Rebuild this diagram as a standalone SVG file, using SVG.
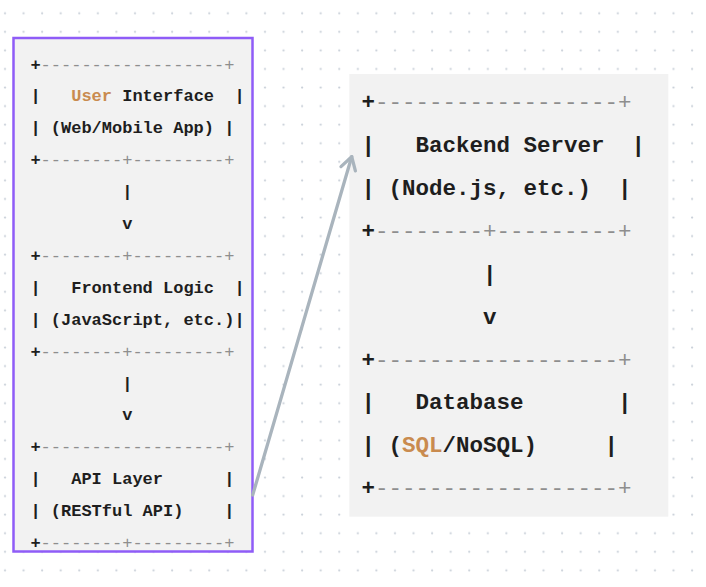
<svg xmlns="http://www.w3.org/2000/svg" width="706" height="587" viewBox="0 0 706 587">
  <defs>
    <pattern id="dots" patternUnits="userSpaceOnUse" x="0" y="0" width="18.57" height="18.57">
      <circle cx="5" cy="13.3" r="1.1" fill="#c8cfd8"/>
    </pattern>
    <marker id="chev" markerUnits="userSpaceOnUse" viewBox="-16 -10 20 20" markerWidth="20" markerHeight="20" refX="0" refY="0" orient="auto">
      <path d="M-12.5,-7.5 L0,0 L-12.5,7.5" fill="none" stroke="#a9b4bd" stroke-width="3.3" stroke-linecap="round" stroke-linejoin="round"/>
    </marker>
    <style>
      .l { font-family: "Liberation Mono", "DejaVu Sans Mono", monospace; font-size: 17px; font-weight: bold; fill: #1e1e1e; white-space: pre; }
      .r { font-family: "Liberation Mono", "DejaVu Sans Mono", monospace; font-size: 22.5px; font-weight: bold; fill: #1e1e1e; white-space: pre; }
      .g { fill: #8e8e8e; font-weight: normal; }
      .o { fill: #c98b4f; }
      .box { fill: #f2f2f2; }
    </style>
  </defs>
  <rect width="706" height="587" fill="#ffffff"/>
  <rect width="706" height="587" fill="url(#dots)"/>

  <g id="node-frontend">
    <rect class="box" x="13.5" y="38" width="239" height="513.5" stroke="#8f5cf7" stroke-width="2.5"/>
    <text class="l" xml:space="preserve" x="30.4" y="69.5">+<tspan class="g">------------------+</tspan></text>
    <text class="l" xml:space="preserve" x="30.4" y="101.4">|   <tspan class="o">User</tspan> Interface  |</text>
    <text class="l" xml:space="preserve" x="30.4" y="133.3">| (Web/Mobile App) |</text>
    <text class="l" xml:space="preserve" x="30.4" y="165.2">+<tspan class="g">--------+---------+</tspan></text>
    <text class="l" xml:space="preserve" x="30.4" y="197.1">         |</text>
    <text class="l" xml:space="preserve" x="30.4" y="229">         v</text>
    <text class="l" xml:space="preserve" x="30.4" y="260.9">+<tspan class="g">--------+---------+</tspan></text>
    <text class="l" xml:space="preserve" x="30.4" y="292.8">|   Frontend Logic  |</text>
    <text class="l" xml:space="preserve" x="30.4" y="324.7">| (JavaScript, etc.)|</text>
    <text class="l" xml:space="preserve" x="30.4" y="356.6">+<tspan class="g">--------+---------+</tspan></text>
    <text class="l" xml:space="preserve" x="30.4" y="388.5">         |</text>
    <text class="l" xml:space="preserve" x="30.4" y="420.4">         v</text>
    <text class="l" xml:space="preserve" x="30.4" y="452.3">+<tspan class="g">------------------+</tspan></text>
    <text class="l" xml:space="preserve" x="30.4" y="484.2">|   API Layer      |</text>
    <text class="l" xml:space="preserve" x="30.4" y="516.1">| (RESTful API)    |</text>
    <text class="l" xml:space="preserve" x="30.4" y="548">+<tspan class="g">--------+---------+</tspan></text>
  </g>

  <g id="node-backend">
    <rect class="box" x="349.3" y="74" width="319" height="442.7"/>
    <text class="r" xml:space="preserve" x="361.5" y="108.7">+<tspan class="g">------------------+</tspan></text>
    <text class="r" xml:space="preserve" x="361.5" y="151.7">|   Backend Server  |</text>
    <text class="r" xml:space="preserve" x="361.5" y="194.6">| (Node.js, etc.)  |</text>
    <text class="r" xml:space="preserve" x="361.5" y="237.6">+<tspan class="g">--------+---------+</tspan></text>
    <text class="r" xml:space="preserve" x="361.5" y="280.5">         |</text>
    <text class="r" xml:space="preserve" x="361.5" y="323.5">         v</text>
    <text class="r" xml:space="preserve" x="361.5" y="366.5">+<tspan class="g">------------------+</tspan></text>
    <text class="r" xml:space="preserve" x="361.5" y="409.4">|   Database       |</text>
    <text class="r" xml:space="preserve" x="361.5" y="452.4">| (<tspan class="o">SQL</tspan>/NoSQL)     |</text>
    <text class="r" xml:space="preserve" x="361.5" y="495.3">+<tspan class="g">------------------+</tspan></text>
  </g>

  <g id="connectors">
    <line x1="252.7" y1="495" x2="351.7" y2="156.7" stroke="#a9b4bd" stroke-width="3.3" stroke-linecap="round" marker-end="url(#chev)"/>
  </g>
</svg>
